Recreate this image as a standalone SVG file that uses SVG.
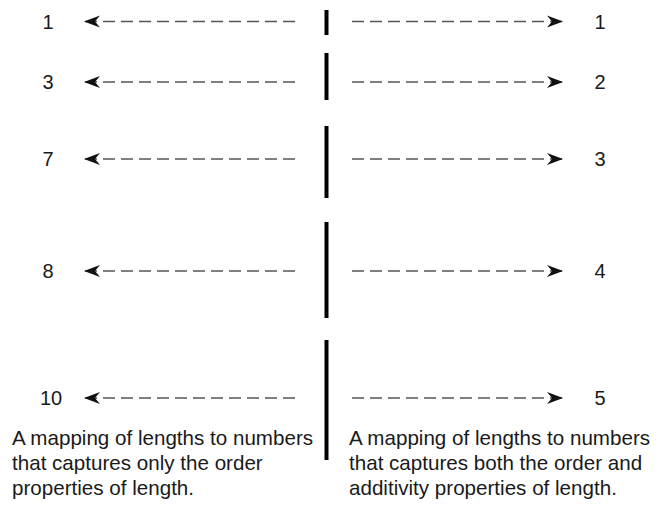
<svg xmlns="http://www.w3.org/2000/svg" width="668" height="506" viewBox="0 0 668 506">
<style>
text{font-family:"Liberation Sans",Arial,sans-serif;font-size:20px;fill:#1a1a1a}
.num{text-anchor:middle}
.cap{font-size:20.6px}
.dash{stroke:#555;stroke-width:1.7;stroke-dasharray:12 6;fill:none}
.bar{stroke:#000;stroke-width:4}
</style>
<defs>
<marker id="ah" markerUnits="userSpaceOnUse" markerWidth="18" markerHeight="14" refX="16" refY="6" orient="auto" overflow="visible">
<path d="M0,0 L16,6 L0,12 L5,6 z" fill="#111"/>
</marker>
</defs>
<rect width="668" height="506" fill="#fff"/>
<g id="connectors">
<path class="dash" d="M295,21.5 L84,21.5" marker-end="url(#ah)"/>
<path class="dash" d="M295,82 L84,82" marker-end="url(#ah)"/>
<path class="dash" d="M295,159 L84,159" marker-end="url(#ah)"/>
<path class="dash" d="M295,271 L84,271" marker-end="url(#ah)"/>
<path class="dash" d="M295,398 L84,398" marker-end="url(#ah)"/>
<path class="dash" d="M352,21.5 L563,21.5" marker-end="url(#ah)"/>
<path class="dash" d="M352,82 L563,82" marker-end="url(#ah)"/>
<path class="dash" d="M352,159 L563,159" marker-end="url(#ah)"/>
<path class="dash" d="M352,271 L563,271" marker-end="url(#ah)"/>
<path class="dash" d="M352,398 L563,398" marker-end="url(#ah)"/>
</g>
<g id="bars">
<line class="bar" x1="326.5" y1="10" x2="326.5" y2="35"/>
<line class="bar" x1="326.5" y1="53" x2="326.5" y2="100"/>
<line class="bar" x1="326.5" y1="126" x2="326.5" y2="198"/>
<line class="bar" x1="326.5" y1="222" x2="326.5" y2="318"/>
<line class="bar" x1="326.5" y1="340" x2="326.5" y2="460"/>
</g>
<g id="left-numbers">
<text class="num" x="48" y="28.5">1</text>
<text class="num" x="48" y="89">3</text>
<text class="num" x="48" y="166">7</text>
<text class="num" x="48" y="278">8</text>
<text class="num" x="51" y="405">10</text>
</g>
<g id="right-numbers">
<text class="num" x="600" y="28.5">1</text>
<text class="num" x="600" y="89">2</text>
<text class="num" x="600" y="166">3</text>
<text class="num" x="600" y="278">4</text>
<text class="num" x="600" y="405">5</text>
</g>
<g id="caption-left">
<text class="cap" x="12" y="445">A mapping of lengths to numbers</text>
<text class="cap" x="12" y="470">that captures only the order</text>
<text class="cap" x="12" y="495">properties of length.</text>
</g>
<g id="caption-right">
<text class="cap" x="349" y="445">A mapping of lengths to numbers</text>
<text class="cap" x="349" y="470">that captures both the order and</text>
<text class="cap" x="349" y="495">additivity properties of length.</text>
</g>
</svg>
